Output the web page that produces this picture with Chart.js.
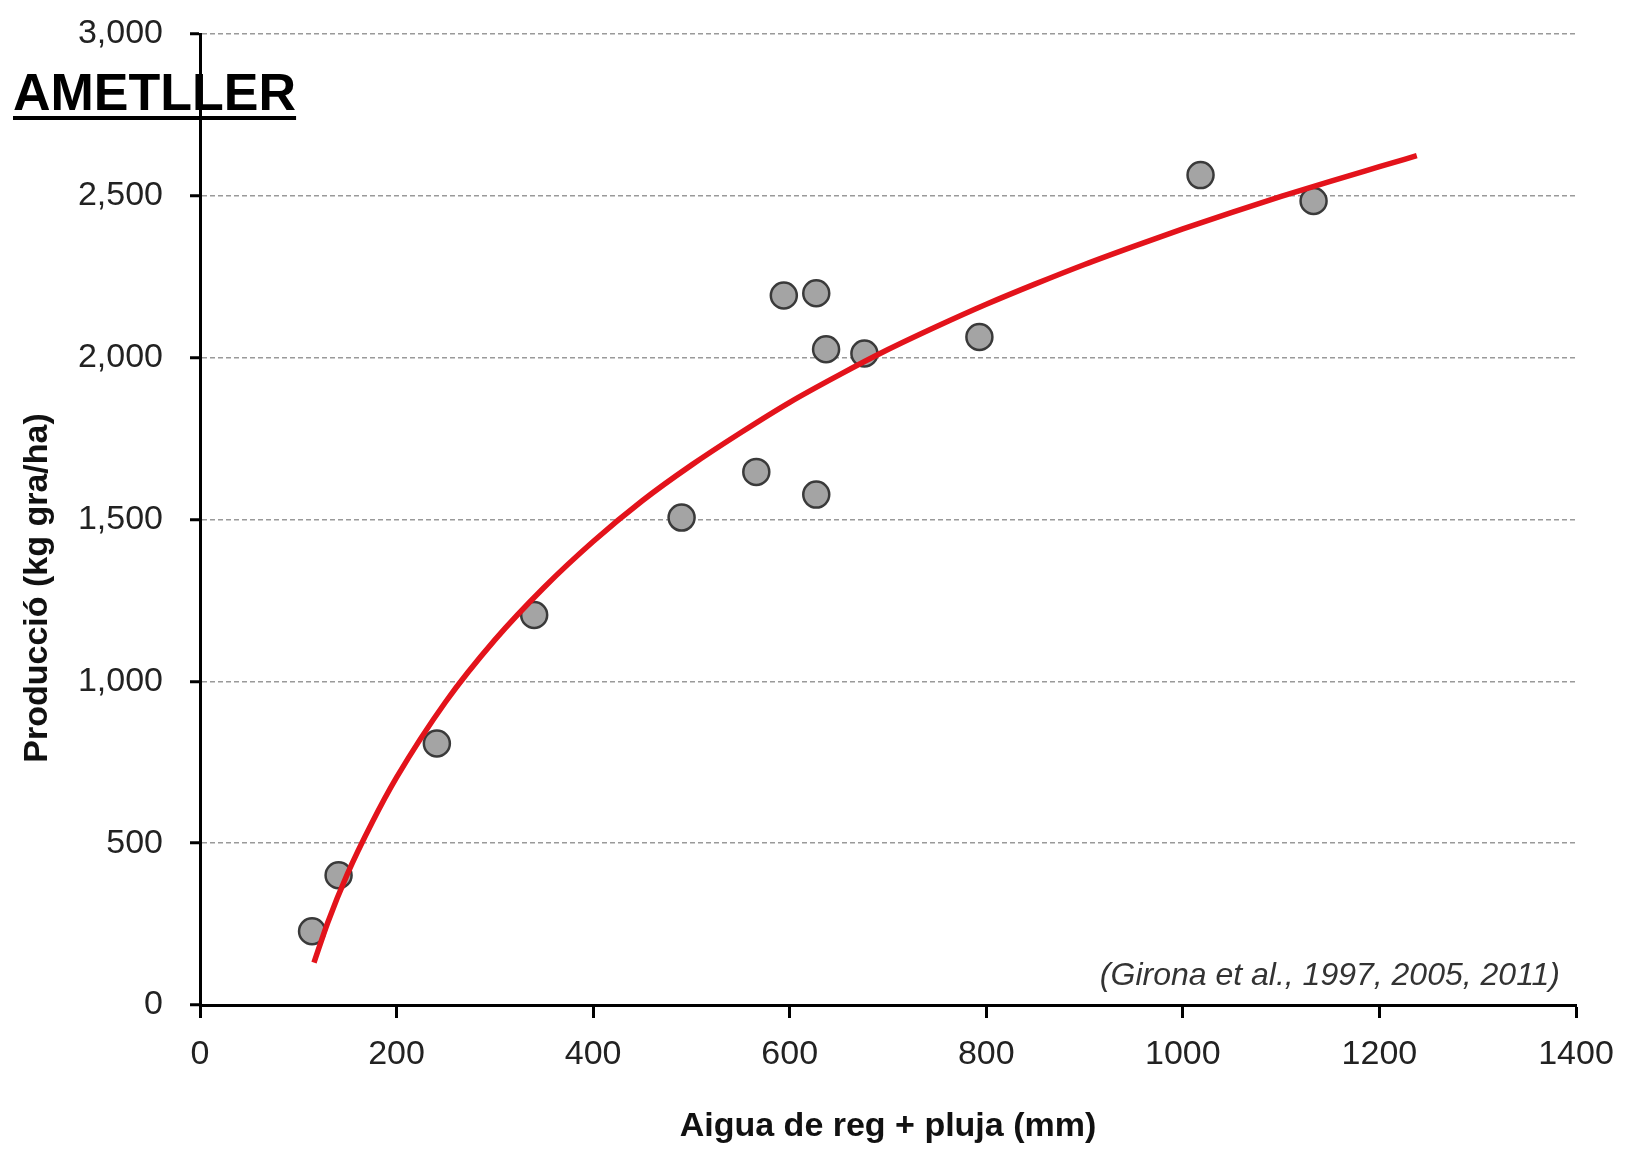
<!DOCTYPE html>
<html>
<head>
<meta charset="utf-8">
<script src="https://cdn.jsdelivr.net/npm/chart.js@4.4.0/dist/chart.umd.min.js"></script>
<style>
  html, body { margin: 0; padding: 0; background: #fff; }
  #wrap { width: 1627px; height: 1159px; position: relative; }
</style>
</head>
<body>
<div id="wrap"><canvas id="ametller"></canvas></div>
<script>
// mesures (aigua mm, producció kg/ha)
var aiguaMm = [114, 141, 241, 340, 490, 566, 594, 627, 627, 637, 676, 793, 1018, 1133];
var produccio = [228, 401, 808, 1205, 1506, 1647, 2192, 2199, 1577, 2026, 2013, 2064, 2564, 2484];

// corba d'ajust llegida del gràfic
var corbaX = [116, 130, 150, 175, 200, 250, 300, 350, 400, 450, 500, 550, 600, 650, 700, 750, 800, 850, 900, 950, 1000, 1050, 1100, 1150, 1200, 1238];
var corbaY = [131, 255, 405, 563, 703, 937, 1128, 1290, 1432, 1558, 1668, 1768, 1862, 1946, 2025, 2097, 2165, 2228, 2288, 2344, 2398, 2449, 2498, 2545, 2590, 2624];

var yTicks = [0, 500, 1000, 1500, 2000, 2500, 3000];
var xTicks = [0, 200, 400, 600, 800, 1000, 1200, 1400];

var titol = 'AMETLLER';
var titolY = 'Producció (kg gra/ha)';
var cita = '(Girona et al., 1997, 2005, 2011)';

var sans = '"Liberation Sans", Arial, sans-serif';

function pts(xs, ys) {
    return xs.map(function (x, i) { return { x: x, y: ys[i] }; });
}

// Títol, títol de l'eix Y i cita
var extres = {
    id: 'extres',
    afterDraw: function (chart) {
        var ctx = chart.ctx;
        ctx.save();
        ctx.fillStyle = '#000';
        ctx.font = 'bold 52px ' + sans;
        ctx.textAlign = 'left';
        ctx.textBaseline = 'alphabetic';
        ctx.fillText(titol, 13, 110);
        var w = ctx.measureText(titol).width;
        ctx.fillRect(13, 116, w, 4);

        ctx.fillStyle = '#111';
        ctx.font = 'bold 34px ' + sans;
        ctx.textAlign = 'center';
        ctx.textBaseline = 'middle';
        ctx.translate(38, 588);
        ctx.rotate(-Math.PI / 2);
        ctx.fillText(titolY, 0, 0);
        ctx.restore();

        ctx.save();
        ctx.fillStyle = '#333';
        ctx.font = 'italic 32px ' + sans;
        ctx.textAlign = 'right';
        ctx.textBaseline = 'middle';
        ctx.fillText(cita, 1560, 976);
        ctx.restore();
    }
};

var ctx = document.getElementById('ametller').getContext('2d');
var chart = new Chart(ctx, {
    type: 'scatter',
    data: {
        datasets: [{
            type: 'line',
            label: 'ajust',
            data: pts(corbaX, corbaY),
            borderColor: '#e3131b',
            borderWidth: 5.5,
            pointRadius: 0,
            fill: false,
            cubicInterpolationMode: 'monotone',
            order: 0
        }, {
            label: 'mesures',
            data: pts(aiguaMm, produccio),
            backgroundColor: '#a4a4a4',
            borderColor: '#3a3a3a',
            borderWidth: 2.5,
            pointRadius: 13,
            pointHoverRadius: 13,
            order: 1
        }]
    },
    plugins: [extres],
    options: {
        responsive: true,
        maintainAspectRatio: false,
        animation: false,
        events: [],
        layout: { padding: { left: 0, top: 34, right: 51, bottom: 0 } },
        plugins: {
            legend: { display: false },
            tooltip: { enabled: false }
        },
        scales: {
            x: {
                type: 'linear',
                min: 0,
                max: 1400,
                afterBuildTicks: function (s) { s.ticks = xTicks.map(function (v) { return { value: v }; }); },
                afterFit: function (s) {
                    s.height = 154;
                    s.paddingLeft = 0;
                    s.paddingRight = 0;
                },
                ticks: {
                    color: '#222',
                    font: { family: sans, size: 34 },
                    padding: 16,
                    callback: function (v) { return String(v); }
                },
                grid: {
                    drawOnChartArea: false,
                    drawTicks: true,
                    tickLength: 13,
                    tickColor: '#000',
                    tickWidth: 3
                },
                border: { display: true, color: '#000', width: 3 },
                title: {
                    display: true,
                    text: 'Aigua de reg + pluja (mm)',
                    color: '#111',
                    font: { family: sans, size: 34, weight: 'bold', lineHeight: 1.2 },
                    padding: { top: 0, bottom: 12 }
                }
            },
            y: {
                min: 0,
                max: 3000,
                afterBuildTicks: function (s) { s.ticks = yTicks.map(function (v) { return { value: v }; }); },
                afterFit: function (s) {
                    s.width = 200;
                    s.paddingTop = 0;
                    s.paddingBottom = 0;
                },
                ticks: {
                    color: '#222',
                    font: { family: sans, size: 34 },
                    padding: 27,
                    callback: function (v) { return v.toLocaleString('en-US'); }
                },
                grid: {
                    color: function (c) { return c.tick && c.tick.value === 0 ? 'rgba(0,0,0,0)' : '#9a9a9a'; },
                    lineWidth: 1.5,
                    drawTicks: true,
                    tickLength: 10,
                    tickColor: '#000',
                    tickWidth: 3,
                    tickBorderDash: []
                },
                border: { display: true, color: '#000', width: 3, dash: [5, 3] }
            }
        }
    }
});
</script>
</body>
</html>
